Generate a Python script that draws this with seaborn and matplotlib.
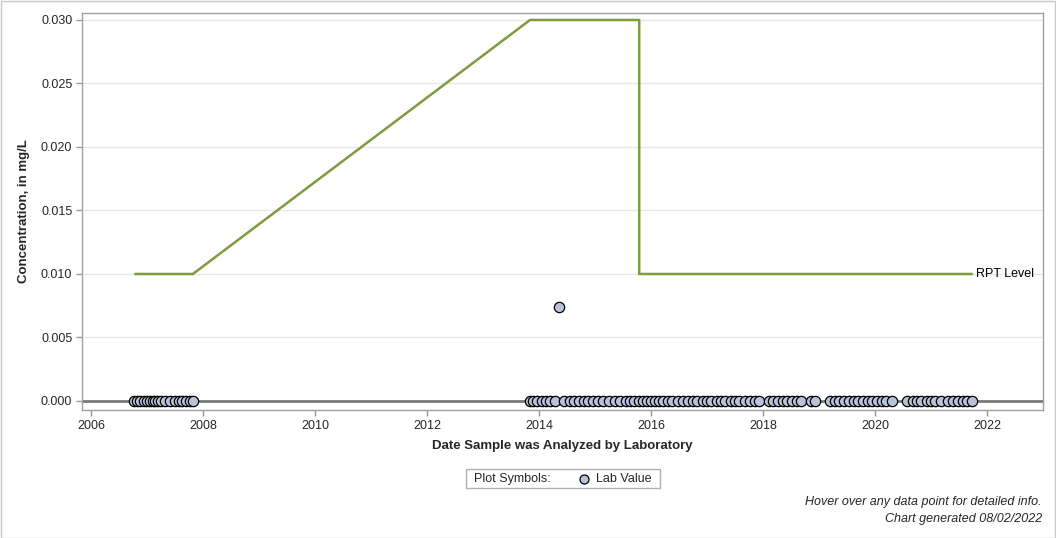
import numpy as np
import pandas as pd
import matplotlib
matplotlib.use("Agg")
import matplotlib.pyplot as plt
from matplotlib.patches import Rectangle
from matplotlib.lines import Line2D
import seaborn as sns

# ---- data ----
lab_dates = [
    2006.77, 2006.82, 2006.87, 2006.95, 2007.00, 2007.05, 2007.10, 2007.15, 2007.20,
    2007.25, 2007.32, 2007.42, 2007.50, 2007.57, 2007.62, 2007.70, 2007.76, 2007.82,
    2013.84, 2013.90, 2013.97, 2014.05, 2014.12, 2014.20, 2014.28, 2014.45, 2014.55,
    2014.63, 2014.72, 2014.80, 2014.88, 2014.97, 2015.05, 2015.15, 2015.25, 2015.35,
    2015.45, 2015.55, 2015.62, 2015.70, 2015.78, 2015.85, 2015.92, 2016.00, 2016.08,
    2016.15, 2016.22, 2016.30, 2016.38, 2016.48, 2016.58, 2016.66, 2016.75, 2016.83,
    2016.92, 2017.00, 2017.08, 2017.17, 2017.25, 2017.33, 2017.42, 2017.50, 2017.58,
    2017.67, 2017.77, 2017.85, 2017.93, 2018.10, 2018.18, 2018.27, 2018.35, 2018.43,
    2018.52, 2018.60, 2018.68, 2018.85, 2018.93, 2019.20, 2019.28, 2019.36, 2019.45,
    2019.53, 2019.62, 2019.70, 2019.78, 2019.87, 2019.95, 2020.03, 2020.12, 2020.20,
    2020.30, 2020.58, 2020.67, 2020.75, 2020.83, 2020.92, 2021.00, 2021.08, 2021.17,
    2021.30, 2021.40, 2021.48, 2021.57, 2021.65, 2021.73,
]
lab_values = [0.0] * len(lab_dates)
outlier_date = [2014.36]
outlier_value = [0.0074]

rpt_dates = [2006.79, 2007.82, 2013.84, 2015.79, 2015.79, 2021.73]
rpt_values = [0.010, 0.010, 0.030, 0.030, 0.010, 0.010]

x_ticks = [2006, 2008, 2010, 2012, 2014, 2016, 2018, 2020, 2022]
y_ticks = [0.000, 0.005, 0.010, 0.015, 0.020, 0.025, 0.030]

lab = pd.DataFrame({"date": lab_dates + outlier_date, "value": lab_values + outlier_value})
rpt = pd.DataFrame({"date": rpt_dates, "value": rpt_values})

sns.set_theme(style="white")
plt.rcParams["font.family"] = ["Liberation Sans", "DejaVu Sans"]

W, H = 1056, 538
fig = plt.figure(figsize=(W / 100, H / 100), dpi=100)
ax = fig.add_axes([82 / W, 1 - 410 / H, (1043 - 82) / W, (410 - 13) / H])

ax.set_xlim(2005.84, 2023.0)
ax.set_ylim(-0.00071, 0.03055)

for yv in y_ticks[1:]:
    ax.axhline(yv, color="#e8e8e8", lw=1, zorder=0)
ax.axhline(0, color="#7a7a7a", lw=2, zorder=1)

green = "#7d9c41"
sns.lineplot(data=rpt, x="date", y="value", sort=False, estimator=None,
             color=green, lw=1.8, ax=ax, zorder=2)
ax.annotate("RPT Level", xy=(rpt_dates[-1], rpt_values[-1]), xytext=(3, 0),
            textcoords="offset points", va="center", ha="left", fontsize=9, color="black")

sns.scatterplot(data=lab, x="date", y="value", s=55, color="#b8c3d9",
                edgecolor="black", linewidth=0.9, ax=ax, zorder=3)

ax.set_xticks(x_ticks)
ax.set_xticklabels([str(t) for t in x_ticks], fontsize=9)
ax.set_yticks(y_ticks)
ax.set_yticklabels([f"{t:.3f}" for t in y_ticks], fontsize=9)
ax.tick_params(axis="both", length=4, color="#9a9a9a", width=1, direction="out",
               bottom=True, left=True, pad=3)
for sp in ax.spines.values():
    sp.set_color("#a0a0a0")
    sp.set_linewidth(1)
ax.set_xlabel("Date Sample was Analyzed by Laboratory", fontsize=9.5, fontweight="bold", labelpad=6)
ax.set_ylabel("Concentration, in mg/L", fontsize=9.5, fontweight="bold", labelpad=8)

# legend box
fig.add_artist(Rectangle((466 / W, 1 - 488 / H), (660 - 466) / W, 19 / H,
                         transform=fig.transFigure, fill=False, edgecolor="#b0b0b0", lw=1))
fig.text(474 / W, 1 - 479 / H, "Plot Symbols:", fontsize=9, va="center", ha="left")
fig.add_artist(Line2D([584 / W], [1 - 479 / H], transform=fig.transFigure, marker="o",
                      markersize=6.5, markerfacecolor="#b8c3d9", markeredgecolor="black",
                      markeredgewidth=0.9, linestyle="none"))
fig.text(596 / W, 1 - 479 / H, "Lab Value", fontsize=9, va="center", ha="left")

# footer
fig.text(1042 / W, 1 - 502 / H, "Hover over any data point for detailed info.",
         fontsize=9, style="italic", ha="right", va="center")
fig.text(1042 / W, 1 - 519 / H, "Chart generated 08/02/2022",
         fontsize=9, style="italic", ha="right", va="center")

# outer frame
fig.add_artist(Rectangle((0.5 / W, 0.5 / H), (W - 1.5) / W, (H - 1.5) / H,
                         transform=fig.transFigure, fill=False, edgecolor="#c8c8c8", lw=1))

fig.savefig("out.png", dpi=100)
